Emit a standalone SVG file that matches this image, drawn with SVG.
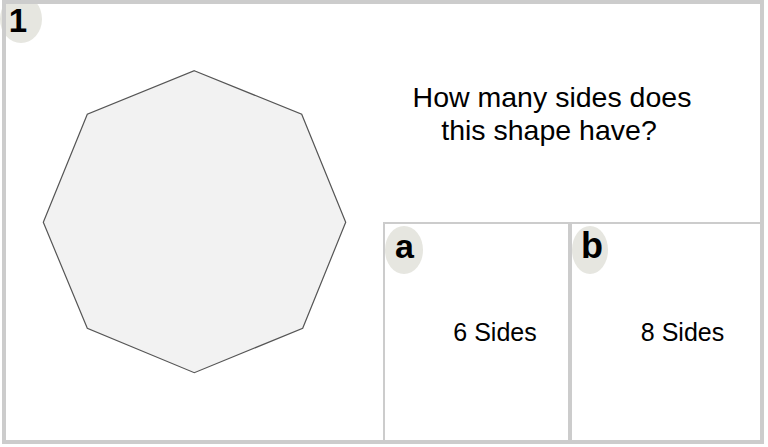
<svg xmlns="http://www.w3.org/2000/svg" width="768" height="447" viewBox="0 0 768 447">
<style>
.frame{fill:none;stroke:#cccccc}
.badge{fill:#e6e6e0}
.lbl{font-family:"Liberation Sans",Arial,sans-serif;font-weight:bold;fill:#000;text-anchor:middle}
.txt{font-family:"Liberation Sans",Arial,sans-serif;fill:#000;text-anchor:middle}
</style>
<rect x="0" y="0" width="768" height="447" fill="#ffffff"/>
<g id="shape">
<polygon points="194.3,70.7 301.7,114.3 345.7,222.3 302.7,328.3 194.3,372.7 87.3,328.3 43.3,222.3 87.3,114.3" fill="#f2f2f2" stroke="#555555" stroke-width="1.2"/>
</g>
<g id="question">
<text class="txt" x="552" y="107" font-size="28.5">How many sides does</text>
<text class="txt" x="549" y="139.5" font-size="28.5">this shape have?</text>
</g>
<g id="answer-a">
<rect class="frame" x="384" y="223" width="185" height="218" stroke-width="2"/>
<ellipse class="badge" cx="404" cy="250" rx="19" ry="24"/>
<text class="lbl" x="404.5" y="258" font-size="34">a</text>
<text class="txt" x="495" y="341" font-size="25">6 Sides</text>
</g>
<g id="answer-b">
<rect class="frame" x="571" y="223" width="190" height="218" stroke-width="2"/>
<ellipse class="badge" cx="590" cy="250" rx="18" ry="24"/>
<text class="lbl" x="592" y="258" font-size="36">b</text>
<text class="txt" x="682.5" y="341" font-size="25">8 Sides</text>
</g>
<g id="number">
<ellipse class="badge" cx="21" cy="19" rx="21" ry="24"/>
<text class="lbl" x="18" y="32" font-size="33">1</text>
</g>
<rect class="frame" x="4" y="2" width="758" height="440" stroke-width="4"/>
</svg>
